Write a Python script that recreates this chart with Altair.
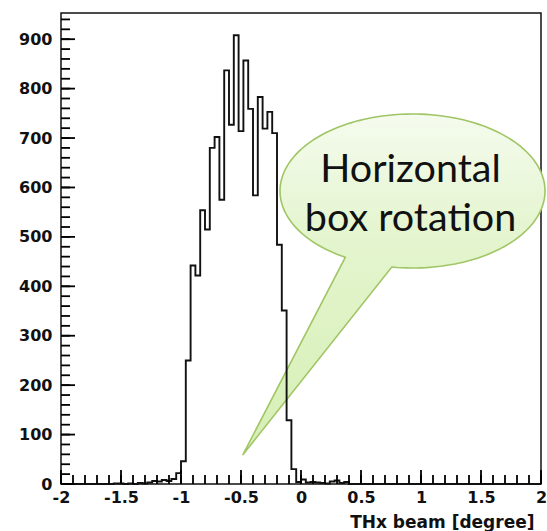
import altair as alt
import numpy as np
import pandas as pd

# ---------------- data ----------------
bin_low = -2.0
bin_width = 0.04
# counts of the 100 bins from -2 to 2
counts = [
    0, 0, 0, 0, 0, 0, 0, 0, 0, 0,
    0, 1, 1, 0, 1, 0, 2, 1, 3, 6,
    5, 8, 6, 10, 22, 46, 250, 442, 422, 554,
    515, 680, 702, 575, 837, 727, 908, 714, 857, 759,
    584, 783, 719, 753, 710, 484, 351, 129, 30, 4,
    9, 3, 4, 3, 2, 1, 5, 7, 2, 4,
    0, 0, 0, 0, 0, 0, 0, 0, 0, 0,
    0, 0, 0, 0, 0, 0, 0, 0, 0, 0,
    0, 0, 0, 0, 0, 0, 0, 0, 0, 0,
    0, 0, 0, 0, 0, 0, 0, 0, 0, 0,
]
x_major = [-2, -1.5, -1, -0.5, 0, 0.5, 1, 1.5, 2]
x_minor = [round(-2 + 0.1 * i, 1) for i in range(41)]
y_major = [0, 100, 200, 300, 400, 500, 600, 700, 800, 900]
y_minor = list(range(0, 960, 20))
x_title = "THx beam [degree]"
callout_lines = ["Horizontal", "box rotation"]

edges = [bin_low + bin_width * i for i in range(len(counts))] + [2.0]
hist = pd.DataFrame({"x": edges, "count": counts + [counts[-1]]})

# ---------------- layout ----------------
W, H = 480, 471
X0, X1 = -2.0, 2.0
Y0, Y1 = 0.0, 953.0
FONT = "DejaVu Sans"
INK = "#111111"

xs = alt.Scale(domain=[X0, X1], nice=False, zero=False)
ys = alt.Scale(domain=[Y0, Y1], nice=False, zero=False)

lab_expr = "(datum.value < 0 ? '-' : '') + format(abs(datum.value), '~g')"

line = alt.Chart(hist).mark_line(interpolate="step-after", color=INK, strokeWidth=1.9).encode(
    x=alt.X("x:Q", scale=xs, axis=alt.Axis(
        values=x_major, labelExpr=lab_expr, labelFlush=False, labelFont=FONT,
        labelFontWeight="bold", labelFontSize=16, labelColor=INK, labelPadding=1,
        ticks=True, tickSize=4, tickOpacity=0, domain=False, grid=False,
        title=x_title, titleFont=FONT, titleFontWeight="bold", titleFontSize=17,
        titleColor=INK, titleAnchor="end", titleAlign="right", titleBaseline="alphabetic",
        titleX=W - 7, titleY=43)),
    y=alt.Y("count:Q", scale=ys, axis=alt.Axis(
        values=y_major, labelFont=FONT, labelFontWeight="bold", labelFontSize=16,
        labelColor=INK, labelPadding=5, labelFlush=False, format="d",
        ticks=True, tickSize=4, tickOpacity=0, domain=False, grid=False, title="")),
)

# inward ticks (ROOT style): one short segment per tick value, drawn through the shared scales
px_x = (X1 - X0) / W   # data units per pixel along x
px_y = (Y1 - Y0) / H   # data units per pixel along y
seg_rows = []
gid = 0
for vals, size in ((x_minor, 9), (x_major, 14)):
    for v in vals:
        seg_rows.append({"g": gid, "o": 0, "tx": v, "ty": Y0})
        seg_rows.append({"g": gid, "o": 1, "tx": v, "ty": Y0 + size * px_y})
        gid += 1
for vals, size in ((y_minor, 9), (y_major, 14)):
    for v in vals:
        seg_rows.append({"g": gid, "o": 0, "tx": X0, "ty": v})
        seg_rows.append({"g": gid, "o": 1, "tx": X0 + size * px_x, "ty": v})
        gid += 1
ticks_df = pd.DataFrame(seg_rows)

ticks = alt.Chart(ticks_df).mark_line(color="#000000", strokeWidth=1.8).encode(
    x=alt.X("tx:Q", scale=xs),
    y=alt.Y("ty:Q", scale=ys),
    detail="g:N",
    order="o:Q",
)

# ---------------- callout bubble ----------------
rx, ry = 1.325, 0.77
ts = np.linspace(np.radians(120.5), np.radians(99 + 360), 160)
pts = [(rx * np.cos(t), ry * np.sin(t)) for t in ts]
tip = (-1.698, 2.64)
bubble_path = "M" + " L".join(f"{px:.4f},{py:.4f}" for px, py in pts) + f" L{tip[0]},{tip[1]} Z"

grad = alt.Gradient(
    gradient="linear",
    stops=[
        alt.GradientStop(color="#f5fbee", offset=0),
        alt.GradientStop(color="#e4f5cf", offset=0.35),
        alt.GradientStop(color="#d6efb4", offset=1),
    ],
    x1=0, x2=0, y1=0, y2=1,
)

one = pd.DataFrame({"k": [0]})
bubble = alt.Chart(one).mark_point(
    shape=bubble_path, size=40000, filled=True, fill=grad, fillOpacity=1, opacity=1,
    stroke="#a0c564", strokeWidth=1.6,
).encode(x=alt.value(351.5), y=alt.value(178))

label = alt.Chart(pd.DataFrame({"t": ["\n".join(callout_lines)]})).mark_text(
    font="Lato", fontSize=39.5, lineBreak="\n", lineHeight=49, align="center",
    baseline="alphabetic", color=INK,
).encode(x=alt.value(349.5), y=alt.value(168.7), text="t:N")

chart = alt.layer(bubble, line, label, ticks).properties(
    width=W, height=H, autosize=alt.AutoSizeParams(type="none"),
    padding={"left": 61, "top": 13, "right": 6, "bottom": 47},
    background="white",
).configure_view(stroke=INK, strokeWidth=1.5)

chart.save("out.html", embed_options={"renderer": "svg", "actions": False})
